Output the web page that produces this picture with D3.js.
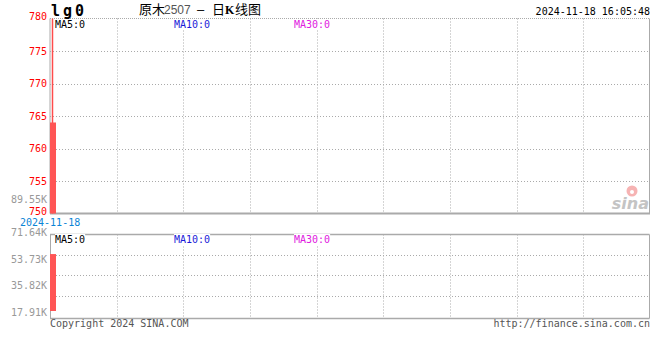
<!DOCTYPE html>
<html><head><meta charset="utf-8">
<script src="https://cdn.jsdelivr.net/npm/d3@7/dist/d3.min.js"></script>
<style>
body{margin:0;background:#fff;}
svg{display:block;}
text{font-family:"DejaVu Sans Mono",monospace;font-size:10px;}
</style></head>
<body><svg id="c" width="660" height="360"></svg>
<script>
const dates = ["2024-11-18"];
const opens = [750];
const closes = [764];
const highs = [780];
const lows = [750];
const volumes = [57200];
const priceTicks = [750, 755, 760, 765, 770, 775, 780];
const volTickValues = [71640, 53730, 35820, 17910];
const volTickLabels = ["71.64K", "53.73K", "35.82K", "17.91K"];
const upperVolLabel = "89.55K";
const maLabels = ["MA5:0", "MA10:0", "MA30:0"];
const maColors = ["#000000", "#1a1ad8", "#e020e0"];

const svg = d3.select("#c");
const L = 50, R = 649.5, T1 = 18.5, B1 = 213.5, T2 = 234.5, B2 = 318.5;
const grid = "#aaa";

const x = d3.scaleLinear().domain([0, 80]).range([L, L + 600]);
const yP = d3.scaleLinear().domain([750, 780]).range([B1, T1]);
const yV = d3.scaleLinear().domain([19000, 72000]).range([311, 232]);
const gx = d3.scaleLinear().domain([0, 9]).range([L, L + 600]);

// vertical grid
[[T1, B1], [T2, B2]].forEach(([t, b]) => {
  svg.append("g").selectAll("line").data(d3.range(1, 9)).join("line")
    .attr("x1", d => Math.round(gx(d)) + 0.5).attr("x2", d => Math.round(gx(d)) + 0.5)
    .attr("y1", t).attr("y2", b)
    .attr("stroke", grid).attr("stroke-dasharray", "1,2");
});
// horizontal grid upper
svg.append("g").selectAll("line").data(priceTicks.filter(d => d > 750 && d < 780)).join("line")
  .attr("x1", L).attr("x2", R)
  .attr("y1", d => Math.round(yP(d)) + 0.5).attr("y2", d => Math.round(yP(d)) + 0.5)
  .attr("stroke", grid).attr("stroke-dasharray", "1,2");
// horizontal grid lower
svg.append("g").selectAll("line").data([255.5, 275.5, 296.5]).join("line")
  .attr("x1", L).attr("x2", R).attr("y1", d => d).attr("y2", d => d)
  .attr("stroke", grid).attr("stroke-dasharray", "1,2");

// borders
svg.append("line").attr("x1", L).attr("x2", R).attr("y1", T1).attr("y2", T1).attr("stroke", grid).attr("stroke-dasharray", "1,1");
svg.append("line").attr("x1", L).attr("x2", R + 0.5).attr("y1", B1).attr("y2", B1).attr("stroke", grid).attr("stroke-width", 2);
svg.append("line").attr("x1", R).attr("x2", R).attr("y1", T1).attr("y2", B1).attr("stroke", grid);
svg.append("line").attr("x1", L).attr("x2", L).attr("y1", T1).attr("y2", B1).attr("stroke", grid);
svg.append("line").attr("x1", L).attr("x2", R).attr("y1", T2).attr("y2", T2).attr("stroke", grid).attr("stroke-width", 1.5);
svg.append("line").attr("x1", L).attr("x2", R).attr("y1", B2).attr("y2", B2).attr("stroke", grid).attr("stroke-width", 1.5);
svg.append("line").attr("x1", R).attr("x2", R).attr("y1", T2).attr("y2", B2).attr("stroke", grid);
svg.append("line").attr("x1", L + 0.5).attr("x2", L + 0.5).attr("y1", T2).attr("y2", B2).attr("stroke", grid);

// sina logo
const logo = svg.append("g");
logo.append("circle").attr("cx", 632).attr("cy", 191).attr("r", 5.5).attr("fill", "#f6b3b3");
logo.append("circle").attr("cx", 632).attr("cy", 192).attr("r", 2).attr("fill", "#fff");
logo.append("text").attr("x", 649).attr("y", 209).attr("text-anchor", "end")
  .style("font-family", "DejaVu Sans").style("font-size", "16px").style("font-weight", "bold").style("font-style", "italic")
  .attr("fill", "#c4c4c4").text("sina");

// candles
const cw = 6;
svg.append("g").selectAll("line").data(dates).join("line")
  .attr("x1", (d, i) => x(i) + 2.5).attr("x2", (d, i) => x(i) + 2.5)
  .attr("y1", (d, i) => yP(highs[i])).attr("y2", (d, i) => yP(lows[i]))
  .attr("stroke", "#ff4c4c").attr("stroke-width", 1.5);
svg.append("g").selectAll("rect").data(dates).join("rect")
  .attr("x", (d, i) => x(i)).attr("width", cw)
  .attr("y", (d, i) => yP(Math.max(opens[i], closes[i])))
  .attr("height", (d, i) => Math.abs(yP(opens[i]) - yP(closes[i])))
  .attr("fill", "#ff5555");
// volume bars
svg.append("g").selectAll("rect").data(volumes).join("rect")
  .attr("x", (d, i) => x(i)).attr("width", cw)
  .attr("y", d => yV(d)).attr("height", d => yV.range()[0] - yV(d))
  .attr("fill", "#ff5555");

// price labels
svg.append("g").selectAll("text").data(priceTicks).join("text")
  .attr("x", 47).attr("y", d => d === 780 ? yP(d) + 1 : d === 750 ? yP(d) + 1 : yP(d) + 3.5)
  .attr("text-anchor", "end").attr("fill", "#ff0000").text(d => d);
svg.append("text").attr("x", 47).attr("y", 203).attr("text-anchor", "end").attr("fill", "#999").text(upperVolLabel);
// volume labels
svg.append("g").selectAll("text").data(volTickValues).join("text")
  .attr("x", 47).attr("y", d => yV(d) + 3.5)
  .attr("text-anchor", "end").attr("fill", "#999").text((d, i) => volTickLabels[i]);
// date label
svg.append("text").attr("x", 20).attr("y", 226).attr("fill", "#0a84d6").text(dates[0]);

// MA labels
const maX = [55, 174, 294];
[28, 243].forEach(yy => {
  maLabels.forEach((m, i) => {
    const t = svg.append("text").attr("x", maX[i]).attr("y", yy).attr("fill", maColors[i]).text(m);
    const bb = t.node().getBBox();
    svg.insert("rect", () => t.node()).attr("x", bb.x).attr("y", bb.y).attr("width", bb.width).attr("height", bb.height).attr("fill", "#fff");
  });
});

// title
svg.append("text").attr("x", 51).attr("y", 16)
  .style("font-size", "15px").style("font-weight", "bold").style("letter-spacing", "3px").attr("fill", "#000").text("lg0");
const title = svg.append("text").attr("y", 14).style("font-family", "'Noto Sans CJK SC'").style("font-size", "13px").attr("fill", "#000");
title.append("tspan").attr("x", 139).text("原木");
title.append("tspan").attr("x", 164).attr("fill", "#555").style("font-family", "'Liberation Sans'").style("font-size", "12px").text("2507");
title.append("tspan").attr("x", 197).style("font-family", "'Liberation Sans'").text("–");
title.append("tspan").attr("x", 212).text("日");
title.append("tspan").attr("x", 225).style("font-family", "'Liberation Serif'").style("font-weight", "bold").style("font-size", "12px").text("K");
title.append("tspan").attr("x", 235).text("线图");
svg.append("text").attr("x", 650).attr("y", 15).attr("text-anchor", "end").attr("fill", "#000").text("2024-11-18 16:05:48");

// footer
svg.append("text").attr("x", 50).attr("y", 327).attr("fill", "#555").text("Copyright 2024 SINA.COM");
svg.append("text").attr("x", 650).attr("y", 327).attr("text-anchor", "end").attr("fill", "#555").text("http://finance.sina.com.cn");
</script></body></html>
